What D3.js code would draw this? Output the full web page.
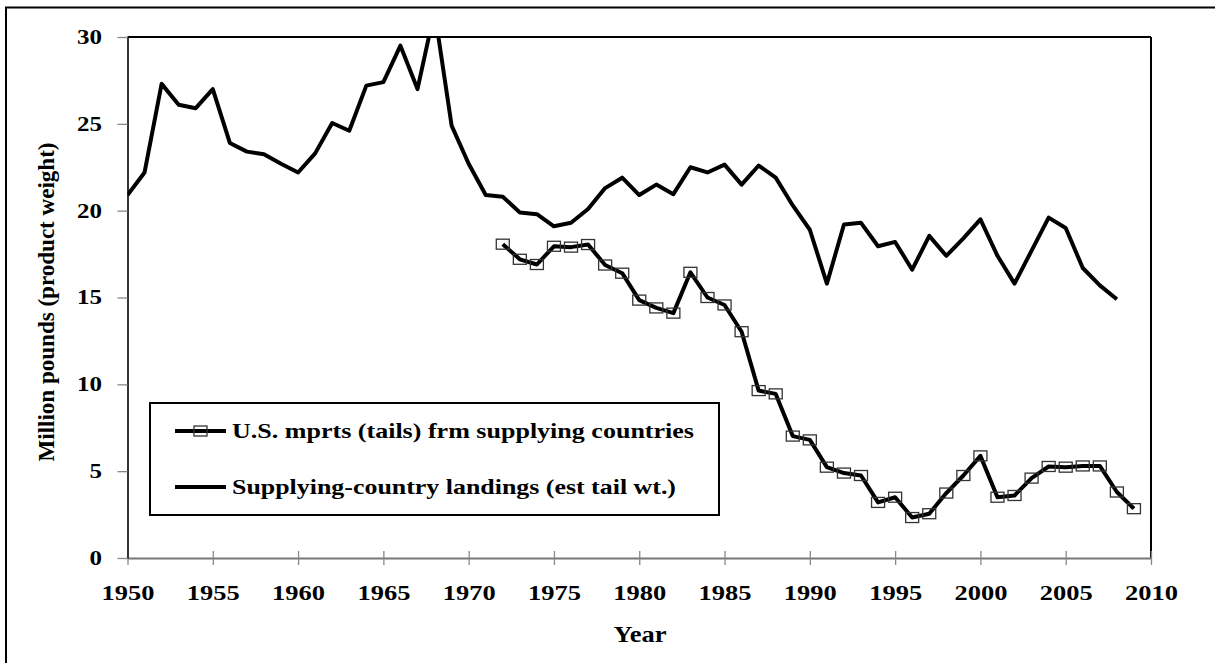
<!DOCTYPE html>
<html>
<head>
<meta charset="utf-8">
<script src="https://cdn.jsdelivr.net/npm/d3@7"></script>
<style>
  body { margin: 0; background: #fff; }
  svg text { font-family: "Times New Roman", "Liberation Serif", Times, serif !important; font-weight: bold; fill: #000; }
</style>
</head>
<body>
<div id="chart"></div>
<script>
var landingYears = [1950, 1951, 1952, 1953, 1954, 1955, 1956, 1957, 1958, 1959,
  1960, 1961, 1962, 1963, 1964, 1965, 1966, 1967, 1968, 1969,
  1970, 1971, 1972, 1973, 1974, 1975, 1976, 1977, 1978, 1979,
  1980, 1981, 1982, 1983, 1984, 1985, 1986, 1987, 1988, 1989,
  1990, 1991, 1992, 1993, 1994, 1995, 1996, 1997, 1998, 1999,
  2000, 2001, 2002, 2003, 2004, 2005, 2006, 2007, 2008]
var landings = [20.9, 22.2, 27.3, 26.1, 25.9, 27.0, 23.9, 23.4, 23.25, 22.7,
  22.2, 23.3, 25.05, 24.6, 27.2, 27.4, 29.5, 27.0, 31.5, 24.9,
  22.7, 20.9, 20.8, 19.9, 19.8, 19.1, 19.3, 20.1, 21.3, 21.9,
  20.9, 21.5, 20.95, 22.5, 22.2, 22.65, 21.5, 22.6, 21.9, 20.3,
  18.9, 15.8, 19.2, 19.3, 17.95, 18.2, 16.6, 18.55, 17.4, 18.4,
  19.5, 17.4, 15.8, 17.7, 19.6, 19.0, 16.7, 15.7, 14.9]

var importYears = [1972, 1973, 1974, 1975, 1976, 1977, 1978, 1979,
  1980, 1981, 1982, 1983, 1984, 1985, 1986, 1987, 1988, 1989,
  1990, 1991, 1992, 1993, 1994, 1995, 1996, 1997, 1998, 1999,
  2000, 2001, 2002, 2003, 2004, 2005, 2006, 2007, 2008, 2009]
var imports = [18.07, 17.2, 16.9, 17.95, 17.9, 18.05, 16.87, 16.4,
  14.85, 14.4, 14.1, 16.45, 15.0, 14.57, 13.03, 9.64, 9.45, 7.02,
  6.8, 5.23, 4.89, 4.75, 3.2, 3.5, 2.33, 2.55, 3.74, 4.75,
  5.88, 3.5, 3.6, 4.6, 5.27, 5.23, 5.3, 5.3, 3.8, 2.84]

var xTicks = [1950, 1955, 1960, 1965, 1970, 1975, 1980, 1985, 1990, 1995, 2000, 2005, 2010]
var yTicks = [0, 5, 10, 15, 20, 25, 30]
var legendLabels = ['U.S. mprts (tails) frm supplying countries', 'Supplying-country landings (est tail wt.)']
var yTitle = 'Million pounds (product weight)'
var xTitle = 'Year'

;(function() {
  var margin = {top: 37, right: 64, bottom: 105, left: 127.5}
  var width = 1215 - margin.left - margin.right
  var height = 663 - margin.top - margin.bottom

  var xPositionScale = d3.scaleLinear().domain([1950, 2010]).range([0, width])
  var yPositionScale = d3.scaleLinear().domain([0, 30]).range([height, 0])

  var root = d3.select('#chart')
    .append('svg')
    .attr('width', 1215)
    .attr('height', 663)

  // outer chart frame (only top + left show in the window)
  root.append('rect')
    .attr('x', 6)
    .attr('y', 7.5)
    .attr('width', 1400)
    .attr('height', 800)
    .attr('fill', 'none')
    .attr('stroke', '#000')
    .attr('stroke-width', 2)

  var svg = root.append('g')
    .attr('transform', 'translate(' + margin.left + ',' + margin.top + ')')

  svg.append('clipPath')
    .attr('id', 'plot-clip')
    .append('rect')
    .attr('width', width)
    .attr('height', height)

  var landingPoints = landingYears.map((y, i) => ({year: y, value: landings[i]}))
  var importPoints = importYears.map((y, i) => ({year: y, value: imports[i]}))

  var line = d3.line()
    .x(d => xPositionScale(d.year))
    .y(d => yPositionScale(d.value))

  // plot border top and right
  svg.append('line')
    .attr('x1', 0).attr('x2', width)
    .attr('y1', 0).attr('y2', 0)
    .attr('stroke', '#000')
    .attr('stroke-width', 2)
  svg.append('line')
    .attr('x1', width).attr('x2', width)
    .attr('y1', 0).attr('y2', height)
    .attr('stroke', '#000')
    .attr('stroke-width', 2)

  var xAxis = d3.axisBottom(xPositionScale)
    .tickValues(xTicks)
    .tickFormat(d3.format('d'))
    .tickSizeOuter(0)
  svg.append('g')
    .attr('class', 'axis axis-x')
    .attr('transform', 'translate(0,' + height + ')')
    .call(xAxis)
    .attr('font-family', null)
    .call(g => g.select('.domain').attr('stroke', '#777').attr('stroke-width', 2))
    .call(g => g.selectAll('.tick line').attr('y1', -7).attr('y2', 7).attr('stroke', '#888').attr('stroke-width', 1.3))
    .call(g => g.selectAll('.tick text')
      .attr('y', 42)
      .attr('dy', null)
      .attr('font-size', 22)
      .attr('textLength', 53)
      .attr('lengthAdjust', 'spacingAndGlyphs'))

  var yAxis = d3.axisLeft(yPositionScale)
    .tickValues(yTicks)
    .tickSize(10)
    .tickPadding(15.5)
    .tickSizeOuter(0)
  svg.append('g')
    .attr('class', 'axis axis-y')
    .call(yAxis)
    .attr('font-family', null)
    .call(g => g.select('.domain').attr('stroke', '#333').attr('stroke-width', 2))
    .call(g => g.selectAll('.tick line').attr('stroke', '#888').attr('stroke-width', 1.3))
    .call(g => g.selectAll('.tick text')
      .attr('font-size', 20)
      .attr('textLength', d => String(d).length * 12.5)
      .attr('lengthAdjust', 'spacingAndGlyphs'))

  svg.append('path')
    .datum(landingPoints)
    .attr('class', 'landings')
    .attr('clip-path', 'url(#plot-clip)')
    .attr('d', line)
    .attr('fill', 'none')
    .attr('stroke', '#000')
    .attr('stroke-width', 4)
    .attr('stroke-linejoin', 'round')

  svg.append('path')
    .datum(importPoints)
    .attr('class', 'imports')
    .attr('d', line)
    .attr('fill', 'none')
    .attr('stroke', '#000')
    .attr('stroke-width', 4)
    .attr('stroke-linejoin', 'round')

  svg.append('g')
    .selectAll('.marker')
    .data(importPoints)
    .enter().append('rect')
    .attr('class', 'marker')
    .attr('x', d => xPositionScale(d.year) - 6.5)
    .attr('y', d => yPositionScale(d.value) - 5)
    .attr('width', 13)
    .attr('height', 10)
    .attr('fill', 'none')
    .attr('stroke', '#333')
    .attr('stroke-width', 1.3)

  // legend
  var legend = root.append('g')
    .attr('transform', 'translate(150,403)')
  legend.append('rect')
    .attr('width', 569)
    .attr('height', 112)
    .attr('fill', '#fff')
    .attr('stroke', '#000')
    .attr('stroke-width', 2)

  var legendWidths = [462, 444]
  var rows = legend.selectAll('.legend-row')
    .data(legendLabels)
    .enter().append('g')
    .attr('class', 'legend-row')
    .attr('transform', (d, i) => 'translate(0,' + (28 + i * 56) + ')')
  rows.append('line')
    .attr('x1', 25).attr('x2', 76)
    .attr('stroke', '#000')
    .attr('stroke-width', 4)
  rows.filter((d, i) => i === 0)
    .append('rect')
    .attr('x', 44).attr('y', -5)
    .attr('width', 13).attr('height', 10)
    .attr('fill', 'none')
    .attr('stroke', '#333')
    .attr('stroke-width', 1.3)
  rows.append('text')
    .attr('x', 82)
    .attr('dy', '0.33em')
    .attr('font-size', 22)
    .attr('textLength', (d, i) => legendWidths[i])
    .attr('lengthAdjust', 'spacingAndGlyphs')
    .text(d => d)

  // axis titles
  root.append('text')
    .attr('transform', 'translate(54,302) rotate(-90)')
    .attr('text-anchor', 'middle')
    .attr('font-size', 23)
    .attr('textLength', 319)
    .attr('lengthAdjust', 'spacingAndGlyphs')
    .text(yTitle)

  root.append('text')
    .attr('x', 640)
    .attr('y', 642)
    .attr('text-anchor', 'middle')
    .attr('font-size', 23)
    .attr('textLength', 53)
    .attr('lengthAdjust', 'spacingAndGlyphs')
    .text(xTitle)
})()
</script>
</body>
</html>
